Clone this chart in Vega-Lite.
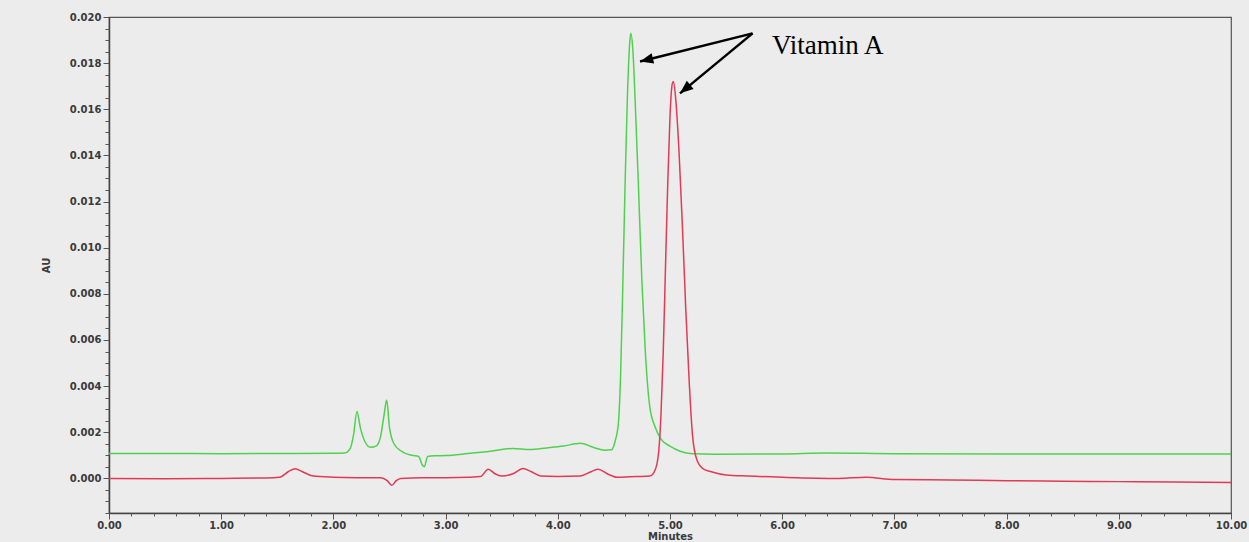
{
  "$schema": "https://vega.github.io/schema/vega-lite/v6.json",
  "width": 1122,
  "height": 496,
  "autosize": {"type": "none"},
  "padding": {"left": 109, "top": 17, "right": 18, "bottom": 29},
  "background": "#ececec",
  "config": {
    "view": {"stroke": "#555555", "strokeWidth": 1.2, "fill": "#ececec"},
    "axis": {
      "labelFont": "DejaVu Sans",
      "labelFontWeight": "bold",
      "labelFontSize": 10,
      "labelColor": "#3a3a3a",
      "titleFont": "DejaVu Sans",
      "titleFontWeight": "bold",
      "titleFontSize": 10,
      "titleColor": "#3a3a3a",
      "domainColor": "#444444",
      "domainWidth": 1.5,
      "tickColor": "#555555",
      "grid": false,
      "labelOverlap": false
    }
  },
  "datasets": {
    "trace": [
      {"time": 0, "au": 0.00108, "series": "Trace 1"},
      {"time": 0.5, "au": 0.00108, "series": "Trace 1"},
      {"time": 1.0, "au": 0.00107, "series": "Trace 1"},
      {"time": 1.5, "au": 0.00108, "series": "Trace 1"},
      {"time": 2.0, "au": 0.00109, "series": "Trace 1"},
      {"time": 2.1, "au": 0.0011, "series": "Trace 1"},
      {"time": 2.15, "au": 0.0013, "series": "Trace 1"},
      {"time": 2.18, "au": 0.0019, "series": "Trace 1"},
      {"time": 2.21, "au": 0.0029, "series": "Trace 1"},
      {"time": 2.24, "au": 0.0022, "series": "Trace 1"},
      {"time": 2.28, "au": 0.0016, "series": "Trace 1"},
      {"time": 2.33, "au": 0.00135, "series": "Trace 1"},
      {"time": 2.38, "au": 0.0014, "series": "Trace 1"},
      {"time": 2.42, "au": 0.0018, "series": "Trace 1"},
      {"time": 2.45, "au": 0.0027, "series": "Trace 1"},
      {"time": 2.475, "au": 0.0034, "series": "Trace 1"},
      {"time": 2.5, "au": 0.0022, "series": "Trace 1"},
      {"time": 2.54, "au": 0.0015, "series": "Trace 1"},
      {"time": 2.6, "au": 0.0012, "series": "Trace 1"},
      {"time": 2.7, "au": 0.001, "series": "Trace 1"},
      {"time": 2.76, "au": 0.00095, "series": "Trace 1"},
      {"time": 2.79, "au": 0.0006, "series": "Trace 1"},
      {"time": 2.81, "au": 0.0005, "series": "Trace 1"},
      {"time": 2.84, "au": 0.00095, "series": "Trace 1"},
      {"time": 2.9, "au": 0.00098, "series": "Trace 1"},
      {"time": 3.0, "au": 0.00099, "series": "Trace 1"},
      {"time": 3.2, "au": 0.00108, "series": "Trace 1"},
      {"time": 3.4, "au": 0.00118, "series": "Trace 1"},
      {"time": 3.6, "au": 0.0013, "series": "Trace 1"},
      {"time": 3.75, "au": 0.00125, "series": "Trace 1"},
      {"time": 3.9, "au": 0.00132, "series": "Trace 1"},
      {"time": 4.05, "au": 0.0014, "series": "Trace 1"},
      {"time": 4.2, "au": 0.00152, "series": "Trace 1"},
      {"time": 4.32, "au": 0.00134, "series": "Trace 1"},
      {"time": 4.42, "au": 0.00122, "series": "Trace 1"},
      {"time": 4.48, "au": 0.00124, "series": "Trace 1"},
      {"time": 4.51, "au": 0.0016, "series": "Trace 1"},
      {"time": 4.54, "au": 0.0024, "series": "Trace 1"},
      {"time": 4.56, "au": 0.0045, "series": "Trace 1"},
      {"time": 4.58, "au": 0.0085, "series": "Trace 1"},
      {"time": 4.6, "au": 0.0128, "series": "Trace 1"},
      {"time": 4.62, "au": 0.0165, "series": "Trace 1"},
      {"time": 4.64, "au": 0.0188, "series": "Trace 1"},
      {"time": 4.65, "au": 0.0193, "series": "Trace 1"},
      {"time": 4.67, "au": 0.0185, "series": "Trace 1"},
      {"time": 4.69, "au": 0.0163, "series": "Trace 1"},
      {"time": 4.72, "au": 0.0125, "series": "Trace 1"},
      {"time": 4.75, "au": 0.0085, "series": "Trace 1"},
      {"time": 4.78, "au": 0.0055, "series": "Trace 1"},
      {"time": 4.82, "au": 0.0031, "series": "Trace 1"},
      {"time": 4.87, "au": 0.0022, "series": "Trace 1"},
      {"time": 4.92, "au": 0.0017, "series": "Trace 1"},
      {"time": 5.0, "au": 0.0014, "series": "Trace 1"},
      {"time": 5.09, "au": 0.00118, "series": "Trace 1"},
      {"time": 5.2, "au": 0.00107, "series": "Trace 1"},
      {"time": 5.4, "au": 0.00105, "series": "Trace 1"},
      {"time": 6.0, "au": 0.00106, "series": "Trace 1"},
      {"time": 6.4, "au": 0.0011, "series": "Trace 1"},
      {"time": 7.0, "au": 0.00107, "series": "Trace 1"},
      {"time": 8.0, "au": 0.00106, "series": "Trace 1"},
      {"time": 9.0, "au": 0.00106, "series": "Trace 1"},
      {"time": 10.0, "au": 0.00106, "series": "Trace 1"},
      {"time": 0, "au": 0.0, "series": "Trace 2"},
      {"time": 0.5, "au": -0.00002, "series": "Trace 2"},
      {"time": 1.0, "au": 0.0, "series": "Trace 2"},
      {"time": 1.4, "au": 0.00002, "series": "Trace 2"},
      {"time": 1.52, "au": 0.00005, "series": "Trace 2"},
      {"time": 1.6, "au": 0.0003, "series": "Trace 2"},
      {"time": 1.66, "au": 0.00042, "series": "Trace 2"},
      {"time": 1.72, "au": 0.0003, "series": "Trace 2"},
      {"time": 1.82, "au": 0.0001, "series": "Trace 2"},
      {"time": 2.0, "au": 0.00005, "series": "Trace 2"},
      {"time": 2.2, "au": 0.00003, "series": "Trace 2"},
      {"time": 2.42, "au": 0.00003, "series": "Trace 2"},
      {"time": 2.48, "au": -0.0001, "series": "Trace 2"},
      {"time": 2.52, "au": -0.0003, "series": "Trace 2"},
      {"time": 2.56, "au": -0.0001, "series": "Trace 2"},
      {"time": 2.6, "au": 0.0, "series": "Trace 2"},
      {"time": 2.8, "au": 0.00003, "series": "Trace 2"},
      {"time": 3.0, "au": 0.00003, "series": "Trace 2"},
      {"time": 3.2, "au": 0.00005, "series": "Trace 2"},
      {"time": 3.31, "au": 0.00008, "series": "Trace 2"},
      {"time": 3.38, "au": 0.0004, "series": "Trace 2"},
      {"time": 3.44, "au": 0.0002, "series": "Trace 2"},
      {"time": 3.5, "au": 0.0001, "series": "Trace 2"},
      {"time": 3.6, "au": 0.0002, "series": "Trace 2"},
      {"time": 3.69, "au": 0.00043, "series": "Trace 2"},
      {"time": 3.76, "au": 0.0003, "series": "Trace 2"},
      {"time": 3.85, "au": 0.0001, "series": "Trace 2"},
      {"time": 4.0, "au": 0.00008, "series": "Trace 2"},
      {"time": 4.2, "au": 0.0001, "series": "Trace 2"},
      {"time": 4.3, "au": 0.0003, "series": "Trace 2"},
      {"time": 4.36, "au": 0.0004, "series": "Trace 2"},
      {"time": 4.44, "au": 0.0002, "series": "Trace 2"},
      {"time": 4.53, "au": 0.00005, "series": "Trace 2"},
      {"time": 4.7, "au": 0.00008, "series": "Trace 2"},
      {"time": 4.82, "au": 0.0001, "series": "Trace 2"},
      {"time": 4.87, "au": 0.0004, "series": "Trace 2"},
      {"time": 4.9, "au": 0.0012, "series": "Trace 2"},
      {"time": 4.92, "au": 0.0028, "series": "Trace 2"},
      {"time": 4.94, "au": 0.0055, "series": "Trace 2"},
      {"time": 4.96, "au": 0.0092, "series": "Trace 2"},
      {"time": 4.98, "au": 0.0128, "series": "Trace 2"},
      {"time": 5.0, "au": 0.0157, "series": "Trace 2"},
      {"time": 5.02, "au": 0.0171, "series": "Trace 2"},
      {"time": 5.03, "au": 0.0172, "series": "Trace 2"},
      {"time": 5.05, "au": 0.0165, "series": "Trace 2"},
      {"time": 5.08, "au": 0.0142, "series": "Trace 2"},
      {"time": 5.11, "au": 0.011, "series": "Trace 2"},
      {"time": 5.14, "au": 0.0074, "series": "Trace 2"},
      {"time": 5.17, "au": 0.0043, "series": "Trace 2"},
      {"time": 5.2, "au": 0.0019, "series": "Trace 2"},
      {"time": 5.24, "au": 0.0008, "series": "Trace 2"},
      {"time": 5.3, "au": 0.0004, "series": "Trace 2"},
      {"time": 5.36, "au": 0.0003, "series": "Trace 2"},
      {"time": 5.5, "au": 0.00015, "series": "Trace 2"},
      {"time": 5.7, "au": 0.0001, "series": "Trace 2"},
      {"time": 6.0, "au": 0.00005, "series": "Trace 2"},
      {"time": 6.5, "au": 0.0, "series": "Trace 2"},
      {"time": 6.75, "au": 0.00005, "series": "Trace 2"},
      {"time": 7.0, "au": -0.00005, "series": "Trace 2"},
      {"time": 7.5, "au": -0.00007, "series": "Trace 2"},
      {"time": 8.0, "au": -0.0001, "series": "Trace 2"},
      {"time": 8.5, "au": -0.00012, "series": "Trace 2"},
      {"time": 9.0, "au": -0.00014, "series": "Trace 2"},
      {"time": 9.5, "au": -0.00016, "series": "Trace 2"},
      {"time": 10.0, "au": -0.00018, "series": "Trace 2"}
    ],
    "arrows": [
      {"x": 5.736, "y": 0.01929, "x2": 4.733, "y2": 0.01807, "target": "Trace 1"},
      {"x": 5.736, "y": 0.01929, "x2": 5.089, "y2": 0.01669, "target": "Trace 2"}
    ],
    "label": [
      {"x": 5.909, "y": 0.01874, "text": "Vitamin A"}
    ]
  },
  "resolve": {"axis": {"x": "independent", "y": "independent"}},
  "layer": [
    {
      "layer": [
        {
          "data": {"name": "trace"},
          "mark": {"type": "line", "strokeWidth": 1.5, "interpolate": "monotone"},
          "encoding": {
            "x": {
              "field": "time",
              "type": "quantitative",
              "scale": {"domain": [0, 10], "nice": false, "zero": false},
              "axis": {
                "orient": "bottom",
                "title": "Minutes",
                "titlePadding": 1,
                "values": [0, 1, 2, 3, 4, 5, 6, 7, 8, 9, 10],
                "format": ".2f",
                "tickSize": 6,
                "labelFlush": false,
                "labelPadding": 1,
                "labelOverlap": false
              }
            },
            "y": {
              "field": "au",
              "type": "quantitative",
              "scale": {"domain": [-0.0015, 0.02], "nice": false, "zero": false},
              "axis": {
                "orient": "left",
                "title": "AU",
                "titlePadding": 18,
                "values": [0, 0.002, 0.004, 0.006, 0.008, 0.01, 0.012, 0.014, 0.016, 0.018, 0.02],
                "format": ".3f",
                "tickSize": 6,
                "labelPadding": 2,
                "labelOverlap": false
              }
            },
            "color": {
              "field": "series",
              "type": "nominal",
              "scale": {"domain": ["Trace 1", "Trace 2"], "range": ["#4fd14f", "#e23a55"]},
              "legend": null
            }
          }
        },
        {
          "data": {"name": "arrows"},
          "mark": {"type": "rule", "color": "black", "strokeWidth": 2.5},
          "encoding": {
            "x": {"field": "x", "type": "quantitative"},
            "y": {"field": "y", "type": "quantitative"},
            "x2": {"field": "x2"},
            "y2": {"field": "y2"}
          }
        },
        {
          "data": {"name": "arrows"},
          "transform": [{"filter": "datum.target == 'Trace 1'"}],
          "mark": {"type": "point", "shape": "M0,0L-0.4,1L0.4,1Z", "filled": true, "color": "black", "opacity": 1, "size": 700, "angle": 256},
          "encoding": {
            "x": {"field": "x2", "type": "quantitative"},
            "y": {"field": "y2", "type": "quantitative"}
          }
        },
        {
          "data": {"name": "arrows"},
          "transform": [{"filter": "datum.target == 'Trace 2'"}],
          "mark": {"type": "point", "shape": "M0,0L-0.4,1L0.4,1Z", "filled": true, "color": "black", "opacity": 1, "size": 700, "angle": 230.5},
          "encoding": {
            "x": {"field": "x2", "type": "quantitative"},
            "y": {"field": "y2", "type": "quantitative"}
          }
        },
        {
          "data": {"name": "label"},
          "mark": {"type": "text", "font": "Liberation Serif", "fontSize": 27, "color": "black", "align": "left", "baseline": "middle"},
          "encoding": {
            "x": {"field": "x", "type": "quantitative"},
            "y": {"field": "y", "type": "quantitative"},
            "text": {"field": "text"}
          }
        }
      ]
    },
    {
      "data": {"name": "trace"},
      "mark": {"type": "line", "opacity": 0},
      "encoding": {
        "x": {
          "field": "time",
          "type": "quantitative",
          "axis": {
            "orient": "bottom",
            "title": null,
            "labels": false,
            "domain": false,
            "tickSize": 3,
            "values": [0.2,0.4,0.6,0.8,1.2,1.4,1.6,1.8,2.2,2.4,2.6,2.8,3.2,3.4,3.6,3.8,4.2,4.4,4.6,4.8,5.2,5.4,5.6,5.8,6.2,6.4,6.6,6.8,7.2,7.4,7.6,7.8,8.2,8.4,8.6,8.8,9.2,9.4,9.6,9.8]
          }
        },
        "y": {
          "field": "au",
          "type": "quantitative",
          "axis": {
            "orient": "left",
            "title": null,
            "labels": false,
            "domain": false,
            "tickSize": 4,
            "values": [-0.0015,-0.001,-0.0005,0.0005,0.001,0.0015,0.0025,0.003,0.0035,0.0045,0.005,0.0055,0.0065,0.007,0.0075,0.0085,0.009,0.0095,0.0105,0.011,0.0115,0.0125,0.013,0.0135,0.0145,0.015,0.0155,0.0165,0.017,0.0175,0.0185,0.019,0.0195]
          }
        },
        "detail": {"field": "series", "type": "nominal"}
      }
    }
  ]
}
